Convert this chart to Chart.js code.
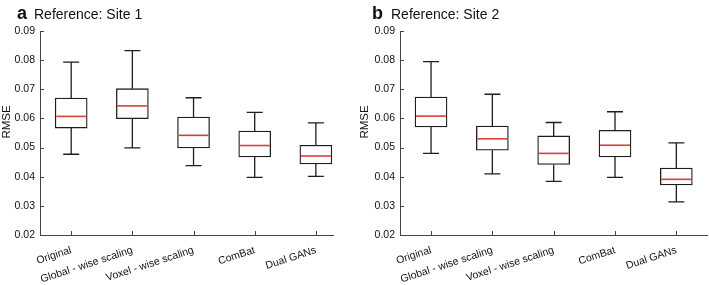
<!DOCTYPE html>
<html lang="en">
<head>
  <meta charset="UTF-8">
  <title>RMSE box plots</title>
  <script src="https://cdn.jsdelivr.net/npm/chart.js"></script>
  <style>
    body {
      margin: 0;
      background: #fff;
    }
    .panel {
      position: absolute;
      top: 0;
    }
  </style>
</head>
<body>
  <div class="panel" style="left:0"><canvas id="siteA" width="355" height="285"></canvas></div>
  <div class="panel" style="left:355px"><canvas id="siteB" width="354" height="285"></canvas></div>

  <script>
    const categories = ['Original', 'Global - wise scaling', 'Voxel - wise scaling', 'ComBat', 'Dual GANs'];
    const yTicks = [0.02, 0.03, 0.04, 0.05, 0.06, 0.07, 0.08, 0.09];

    // Site 1
    const site1Min    = [0.0477, 0.0499, 0.0438, 0.0398, 0.0401];
    const site1Q1     = [0.0567, 0.0599, 0.0499, 0.0468, 0.0444];
    const site1Median = [0.0607, 0.0643, 0.0542, 0.0507, 0.0471];
    const site1Q3     = [0.0670, 0.0702, 0.0605, 0.0557, 0.0508];
    const site1Max    = [0.0793, 0.0833, 0.0671, 0.0621, 0.0585];

    // Site 2
    const site2Min    = [0.0480, 0.0410, 0.0384, 0.0398, 0.0314];
    const site2Q1     = [0.0571, 0.0491, 0.0442, 0.0468, 0.0372];
    const site2Median = [0.0608, 0.0530, 0.0480, 0.0508, 0.0391];
    const site2Q3     = [0.0673, 0.0574, 0.0540, 0.0559, 0.0430];
    const site2Max    = [0.0795, 0.0683, 0.0586, 0.0623, 0.0516];

    const FONT = "'Liberation Sans', Arial, sans-serif";

    function makeChart(id, letter, title, stats, opts) {
      const ctx = document.getElementById(id).getContext('2d');

      // whiskers, medians, inward ticks, panel title
      const boxExtras = {
        id: 'boxExtras',
        afterDatasetsDraw(chart) {
          const c = chart.ctx;
          const x = chart.scales.x;
          const y = chart.scales.y;
          const area = chart.chartArea;
          c.save();
          c.strokeStyle = '#1e1e1e';
          c.lineWidth = 1.3;
          categories.forEach((_, i) => {
            const px = x.getPixelForValue(i + 1);
            c.beginPath();
            c.moveTo(px, y.getPixelForValue(stats.q3[i]));
            c.lineTo(px, y.getPixelForValue(stats.max[i]));
            c.moveTo(px - 8, y.getPixelForValue(stats.max[i]));
            c.lineTo(px + 8, y.getPixelForValue(stats.max[i]));
            c.moveTo(px, y.getPixelForValue(stats.q1[i]));
            c.lineTo(px, y.getPixelForValue(stats.min[i]));
            c.moveTo(px - 8, y.getPixelForValue(stats.min[i]));
            c.lineTo(px + 8, y.getPixelForValue(stats.min[i]));
            c.stroke();
          });
          c.strokeStyle = '#d9403a';
          c.lineWidth = 1.6;
          categories.forEach((_, i) => {
            const px = x.getPixelForValue(i + 1);
            const py = y.getPixelForValue(stats.median[i]);
            c.beginPath();
            c.moveTo(px - 15, py);
            c.lineTo(px + 15, py);
            c.stroke();
          });
          // inward ticks
          c.strokeStyle = '#444';
          c.lineWidth = 1;
          yTicks.forEach(v => {
            const py = Math.round(y.getPixelForValue(v)) + 0.5;
            c.beginPath();
            c.moveTo(area.left, py);
            c.lineTo(area.left + 4, py);
            c.stroke();
          });
          categories.forEach((_, i) => {
            const px = Math.round(x.getPixelForValue(i + 1)) + 0.5;
            c.beginPath();
            c.moveTo(px, area.bottom);
            c.lineTo(px, area.bottom - 4);
            c.stroke();
          });
          // RMSE label
          c.fillStyle = '#111';
          c.font = '11.5px ' + FONT;
          c.textAlign = 'center';
          c.textBaseline = 'middle';
          c.translate(opts.rmseX, (area.top + area.bottom) / 2 - 11);
          c.rotate(-Math.PI / 2);
          c.fillText('RMSE', 0, 0);
          c.restore();

          c.save();
          c.fillStyle = '#111';
          c.textBaseline = 'alphabetic';
          c.font = 'bold 18px ' + FONT;
          c.fillText(letter, opts.letterX, 19);
          c.font = '14px ' + FONT;
          c.fillText(title, opts.titleX, 19);
          c.restore();
        }
      };

      return new Chart(ctx, {
        type: 'bar',
        data: {
          datasets: [{
            data: categories.map((_, i) => ({ x: i + 1, y: [stats.q1[i], stats.q3[i]] })),
            backgroundColor: '#ffffff',
            borderColor: '#1e1e1e',
            borderWidth: 1.3,
            borderSkipped: false,
            barThickness: 32
          }]
        },
        options: {
          responsive: false,
          animation: false,
          layout: { padding: { top: 31, right: opts.padRight, left: 0, bottom: 0 } },
          plugins: { legend: { display: false }, tooltip: { enabled: false } },
          scales: {
            x: {
              type: 'linear',
              offset: false,
              min: opts.xMin,
              max: opts.xMax,
              afterBuildTicks(scale) {
                scale.ticks = categories.map((_, i) => ({ value: i + 1 }));
              },
              afterFit(scale) { scale.height = 50; },
              grid: { drawOnChartArea: false, drawTicks: false, offset: false },
              border: { color: '#444', width: 1 },
              ticks: {
                autoSkip: false,
                minRotation: 18,
                maxRotation: 18,
                padding: 9,
                color: '#111',
                font: { family: FONT, size: 10.5 },
                callback: v => categories[Math.round(v) - 1]
              }
            },
            y: {
              min: 0.02,
              max: 0.09,
              afterBuildTicks(scale) {
                scale.ticks = yTicks.map(v => ({ value: v }));
              },
              afterFit(scale) { scale.width = opts.axisWidth; },
              grid: { drawOnChartArea: false, drawTicks: false },
              border: { color: '#444', width: 1 },
              ticks: {
                padding: 5,
                color: '#111',
                font: { family: FONT, size: 10.5 },
                callback: v => v.toFixed(2)
              }
            }
          }
        },
        plugins: [boxExtras]
      });
    }

    makeChart('siteA', 'a', 'Reference: Site 1',
      { min: site1Min, q1: site1Q1, median: site1Median, q3: site1Q3, max: site1Max },
      { axisWidth: 40, padRight: 22, xMin: 0.49, xMax: 5.28, rmseX: 7, letterX: 17, titleX: 34 });

    makeChart('siteB', 'b', 'Reference: Site 2',
      { min: site2Min, q1: site2Q1, median: site2Median, q3: site2Q3, max: site2Max },
      { axisWidth: 45, padRight: 2, xMin: 0.494, xMax: 5.5, rmseX: 10, letterX: 17, titleX: 36 });
  </script>
</body>
</html>
